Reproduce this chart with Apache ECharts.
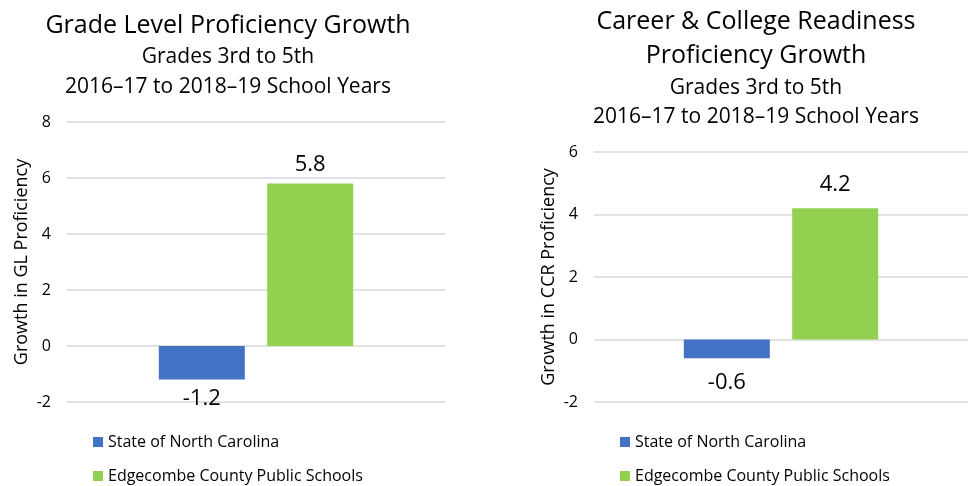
<!DOCTYPE html>
<html>
<head>
<meta charset="utf-8">
<script src="https://cdn.jsdelivr.net/npm/echarts@6/dist/echarts.min.js"></script>
<style>
  html, body { margin: 0; padding: 0; background: #fff; }
  #chart { width: 969px; height: 486px; }
</style>
</head>
<body>
<div id="chart"></div>
<script>
// series names, shared by both panels
const seriesNames = ['State of North Carolina', 'Edgecombe County Public Schools']
const seriesColors = ['#4472C4', '#92D050']

// left panel: grade level proficiency
const glValues = [-1.2, 5.8]
const glTicks = { min: -2, max: 8, interval: 2 }

// right panel: career & college readiness
const ccrValues = [-0.6, 4.2]
const ccrTicks = { min: -2, max: 6, interval: 2 }

const font = 'Open Sans'

const titleLine = (text, x, y, size) => ({
  text: text,
  left: x,
  top: y,
  textAlign: 'center',
  textStyle: { fontFamily: font, fontSize: size, fontWeight: 'normal', color: '#000' }
})

const makeSeries = (values, idx, dist) => values.map((v, i) => ({
  name: seriesNames[i],
  type: 'bar',
  xAxisIndex: idx,
  yAxisIndex: idx,
  barWidth: 86,
  barGap: '26%',
  itemStyle: { color: seriesColors[i] },
  label: {
    show: true,
    position: v < 0 ? 'bottom' : 'top',
    distance: dist,
    fontFamily: font,
    fontSize: 22,
    color: '#000',
    formatter: (p) => p.value.toFixed(1)
  },
  data: [v]
}))

const makeYAxis = (idx, ticks, name, gap) => ({
  gridIndex: idx,
  type: 'value',
  min: ticks.min,
  max: ticks.max,
  interval: ticks.interval,
  name: name,
  nameLocation: 'middle',
  nameGap: gap,
  nameTextStyle: { fontFamily: font, fontSize: 18, color: '#000' },
  axisLine: { show: false },
  axisTick: { show: false },
  axisLabel: { fontFamily: font, fontSize: 16, color: '#000', margin: 16 },
  splitLine: { lineStyle: { color: '#D9D9D9', width: 1.5 } }
})

const makeXAxis = (idx) => ({
  gridIndex: idx,
  type: 'category',
  data: [''],
  axisLine: { show: false },
  axisTick: { show: false },
  axisLabel: { show: false }
})

const makeLegend = (x) => ({
  data: seriesNames,
  orient: 'vertical',
  left: x,
  top: 434,
  padding: 0,
  icon: 'rect',
  itemWidth: 10,
  itemHeight: 10,
  itemGap: 18,
  textStyle: { fontFamily: font, fontSize: 16, lineHeight: 16, color: '#000' },
  selectedMode: false
})

const chart = echarts.init(document.getElementById('chart'))
chart.setOption({
  animation: false,
  title: [
    titleLine('Grade Level Proficiency Growth', 223, 8, 25),
    titleLine('Grades 3rd to 5th', 223, 42, 21),
    titleLine('2016–17 to 2018–19 School Years', 223, 72, 21),
    titleLine('Career & College Readiness', 751, 4, 25),
    titleLine('Proficiency Growth', 751, 38, 25),
    titleLine('Grades 3rd to 5th', 751, 73, 21),
    titleLine('2016–17 to 2018–19 School Years', 751, 102, 21)
  ],
  legend: [makeLegend(93), makeLegend(620)],
  grid: [
    { left: 67, top: 122, width: 378, height: 280 },
    { left: 594, top: 152, width: 374, height: 250 }
  ],
  xAxis: [makeXAxis(0), makeXAxis(1)],
  yAxis: [
    makeYAxis(0, glTicks, 'Growth in GL Proficiency', 36),
    makeYAxis(1, ccrTicks, 'Growth in CCR Proficiency', 36)
  ],
  series: [
    ...makeSeries(glValues, 0, 8),
    ...makeSeries(ccrValues, 1, 13)
  ]
})
</script>
</body>
</html>
